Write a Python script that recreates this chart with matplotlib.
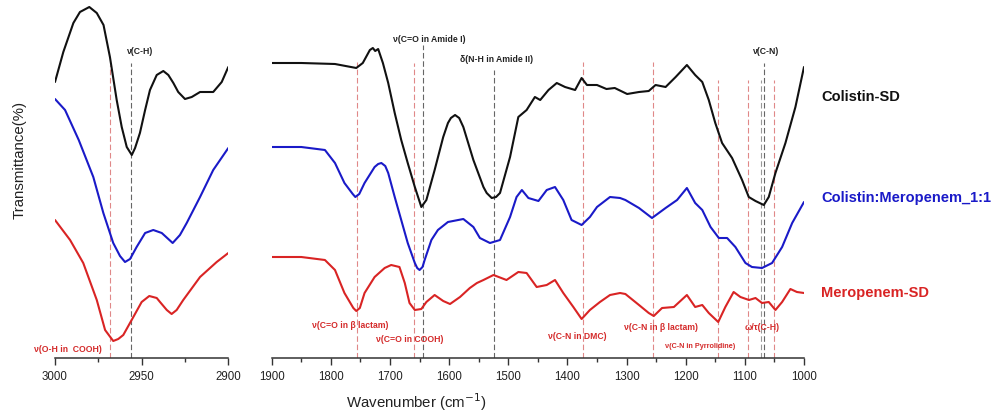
import matplotlib
matplotlib.use("Agg")
import matplotlib.pyplot as plt
from matplotlib.ticker import MultipleLocator

plt.rcParams['font.family'] = ['Liberation Sans', 'DejaVu Sans']

# ---------------- data (offset transmittance, arbitrary units) ----------------
# Left panel: 3000-2900 cm-1
wn_hi_black = [3000, 2995.2, 2989.4, 2985.6, 2980.2, 2975.9, 2972, 2968.3, 2964.4, 2961.5, 2958.6,
               2955.7, 2953.8, 2951, 2948, 2945.2, 2941.3, 2937.5, 2934.6, 2931.7, 2928.9, 2925,
               2921.1, 2916.3, 2908.7, 2903.8, 2900]
t_hi_black = [276, 306, 335, 346, 351, 345, 333, 301, 258, 231, 211,
              203, 210, 225, 248, 268, 283, 287, 283, 275, 266, 259,
              261, 266, 266, 276, 291]

wn_hi_blue = [3000, 2994.2, 2986.3, 2977.9, 2972.1, 2966.4, 2962.5, 2959.6, 2956.7, 2952.9, 2948,
              2943.3, 2938.4, 2932.1, 2927.9, 2924, 2916.3, 2908.7, 2900]
t_hi_blue = [259, 248, 218, 181, 145, 115, 102, 96, 99, 111, 125,
             128, 125, 115, 123, 135, 161, 188, 210]

wn_hi_red = [3000, 2991.3, 2983.7, 2975.9, 2971.1, 2966.4, 2963.5, 2960.6, 2954.8, 2950, 2945.6,
             2941.3, 2939.4, 2935.5, 2932.7, 2929.8, 2926, 2916.3, 2906.7, 2900]
t_hi_red = [138, 118, 95, 58, 28, 17, 19, 23, 41, 56, 62,
            60, 56, 48, 44, 48, 58, 81, 96, 105]

# Right panel: 1900-1000 cm-1
wn_lo_black = [1900, 1850, 1793, 1757, 1746, 1734, 1729, 1725, 1720, 1712, 1703, 1692, 1681, 1670,
               1658, 1647, 1638.5, 1624.5, 1610, 1602, 1597, 1590, 1583, 1576, 1559, 1542, 1536.5,
               1528, 1520.7, 1514, 1497,
               1483, 1469, 1455, 1446, 1432, 1418, 1404, 1387, 1376, 1367, 1350, 1334, 1320,
               1313, 1299, 1279, 1262.5, 1251, 1234, 1217, 1198, 1184, 1172, 1161, 1150, 1138.5,
               1121.6, 1104.7, 1093.4, 1082, 1068, 1059.6, 1048.3, 1031.4, 1014.5, 1000]
t_lo_black = [295, 295, 294, 290, 295, 308, 310, 307, 309, 295, 275, 245, 218, 195,
              171, 151, 158, 188, 221, 235, 240, 243, 240, 231, 198, 171, 165,
              160, 161, 165, 201,
              241, 248, 261, 258, 268, 275, 271, 268, 280, 273, 273, 269, 270,
              268, 264, 266, 267, 273, 271, 281, 293, 283, 276, 258, 235, 215,
              200, 178, 161, 157, 153, 161, 185, 215, 251, 291]

wn_lo_blue = [1900, 1850, 1810, 1793, 1777, 1763, 1758.6, 1752, 1743, 1726, 1720, 1714.6, 1708, 1703,
              1692, 1681, 1670, 1658, 1654, 1650, 1645, 1641.4, 1630, 1619, 1602, 1576, 1559,
              1548, 1531, 1514, 1497, 1486,
              1477, 1466, 1449, 1435, 1421, 1407, 1393, 1376, 1362, 1350, 1328, 1311, 1302,
              1279, 1257, 1234, 1214.6, 1198, 1184, 1172, 1158, 1144, 1130, 1116, 1099, 1088,
              1071, 1054, 1037, 1020, 1000]
t_lo_blue = [211, 211, 208, 195, 175, 164, 161, 164, 175, 191, 194, 195, 192, 185,
             161, 138, 115, 95, 90, 88, 91, 98, 118, 128, 136, 139, 131,
             120, 115, 118, 141, 161,
             168, 160, 157, 168, 171, 158, 138, 133, 141, 151, 161, 160, 158,
             150, 140, 150, 158, 170, 155, 148, 131, 120, 120, 111, 95, 91,
             90, 95, 111, 135, 156]

wn_lo_red = [1900, 1850, 1810, 1793, 1777, 1762, 1757, 1751, 1743, 1726, 1709, 1698, 1684, 1675,
             1667, 1658, 1647, 1638.5, 1624.5, 1610, 1598.5, 1581.6, 1565, 1553, 1542, 1525,
             1503, 1483, 1469, 1452, 1435, 1421, 1407, 1390, 1376, 1362, 1345, 1328, 1311,
             1302, 1279, 1262.5, 1254, 1240, 1220, 1198, 1184, 1172, 1161, 1145, 1133, 1119,
             1107.5, 1093, 1082, 1071, 1059.6, 1048.3, 1037, 1023, 1012, 1000]
t_lo_red = [101, 101, 98, 88, 65, 50, 47, 50, 65, 81, 90, 93, 91, 75,
            55, 48, 49, 56, 63, 57, 54, 61, 70, 75, 78, 83,
            78, 86, 85, 71, 73, 78, 65, 51, 39, 48, 56, 63, 65,
            64, 53, 45, 42, 50, 51, 63, 51, 53, 45, 36, 51, 66,
            61, 58, 60, 55, 56, 48, 56, 69, 66, 65]

series_names = ["Colistin-SD", "Colistin:Meropenem_1:1", "Meropenem-SD"]
series_colors = ["#111111", "#1a1ac8", "#d92424"]

# Assignment lines: (wavenumber, top height, kind)
hi_lines_wn = [2968, 2956]
hi_lines_top = [293, 295]
hi_lines_kind = ["r", "k"]

lo_lines_wn = [1756, 1659, 1645, 1523.5, 1373, 1254.6, 1144.7, 1094, 1072.5, 1067, 1050.6]
lo_lines_top = [296, 295, 313, 288, 296, 296, 278, 278, 278, 295, 278]
lo_lines_kind = ["r", "r", "k", "k", "r", "r", "r", "r", "g", "k", "r"]

# ---------------- figure ----------------
W, H = 993, 416
fig = plt.figure(figsize=(W / 100, H / 100), dpi=100)

def px_box(x0, x1, y_bottom, y_top):
    return [x0 / W, (H - y_bottom) / H, (x1 - x0) / W, (y_bottom - y_top) / H]

ax1 = fig.add_axes(px_box(55, 228.3, 358, 0))
ax2 = fig.add_axes(px_box(271.7, 804, 358, 0))

line_colors = {"r": "#e08888", "k": "#666666", "g": "#999999"}

def style(ax, lo, hi, major, minor):
    ax.set_xlim(lo, hi)
    ax.set_ylim(0, 358)
    for s in ["left", "right", "top"]:
        ax.spines[s].set_visible(False)
    ax.spines["bottom"].set_linewidth(1.1)
    ax.spines["bottom"].set_color("#333333")
    ax.set_yticks([])
    ax.xaxis.set_major_locator(MultipleLocator(major))
    ax.xaxis.set_minor_locator(MultipleLocator(minor))
    ax.tick_params(axis="x", which="major", direction="out", length=5, width=1.0,
                   labelsize=8.3, pad=4, colors="#333333", labelcolor="#222222")
    ax.tick_params(axis="x", which="minor", direction="out", length=3, width=1.0,
                   colors="#333333")
    ax.patch.set_alpha(0)

style(ax1, 3000, 2900, 50, 25)
style(ax2, 1900, 1000, 100, 50)

for wn, top, kind in zip(hi_lines_wn, hi_lines_top, hi_lines_kind):
    ax1.plot([wn, wn], [0, top], color=line_colors[kind], lw=0.8, ls=(0, (5, 2.5)), zorder=1)
for wn, top, kind in zip(lo_lines_wn, lo_lines_top, lo_lines_kind):
    ax2.plot([wn, wn], [0, top], color=line_colors[kind], lw=0.8, ls=(0, (5, 2.5)), zorder=1)

for (x, y), c in zip([(wn_hi_black, t_hi_black), (wn_hi_blue, t_hi_blue), (wn_hi_red, t_hi_red)],
                     series_colors):
    ax1.plot(x, y, color=c, lw=1.5, zorder=3, solid_joinstyle="round", solid_capstyle="round")
for (x, y), c in zip([(wn_lo_black, t_lo_black), (wn_lo_blue, t_lo_blue), (wn_lo_red, t_lo_red)],
                     series_colors):
    ax2.plot(x, y, color=c, lw=1.5, zorder=3, solid_joinstyle="round", solid_capstyle="round")

def ftext(x, y, s, **kw):
    fig.text(x / W, (H - y) / H, s, ha="center", va="center", **kw)

# annotations (black)
ak = dict(fontsize=6.2, color="#222222", fontweight="bold")
ftext(140, 52, "ν(C-H)", **ak)
ftext(429, 40, "ν(C=O in Amide I)", **ak)
ftext(496, 60, "δ(N-H in Amide II)", **ak)
ftext(766.5, 52, "ν(C-N)", **ak)
# annotations (red)
ar = dict(fontsize=6.2, color="#d42a2a", fontweight="bold")
ftext(67.5, 349, "ν(O-H in  COOH)", **ar)
ftext(350, 325, "ν(C=O in β lactam)", **ar)
ftext(410, 340, "ν(C=O in COOH)", **ar)
ftext(577, 336.5, "ν(C-N in DMC)", **ar)
ftext(661, 328, "ν(C-N in β lactam)", **ar)
ftext(700.5, 346.5, "ν(C-N in Pyrrolidine)", fontsize=5.2, color="#d42a2a", fontweight="bold")
ftext(762.5, 328, "ω/τ(C-H)", **ar)

# series labels
for name, c, y in zip(series_names, series_colors, [97, 198, 293]):
    fig.text(821.5 / W, (H - y) / H, name, ha="left", va="center", fontsize=10.5,
             fontweight="bold", color=c)

# axis labels
ftext(20, 160, "Transmittance(%)", fontsize=10.8, rotation=90, color="#222222")
ftext(416, 402, "Wavenumber (cm$^{-1}$)", fontsize=10.8, color="#222222")

fig.savefig("out.png", dpi=100)
